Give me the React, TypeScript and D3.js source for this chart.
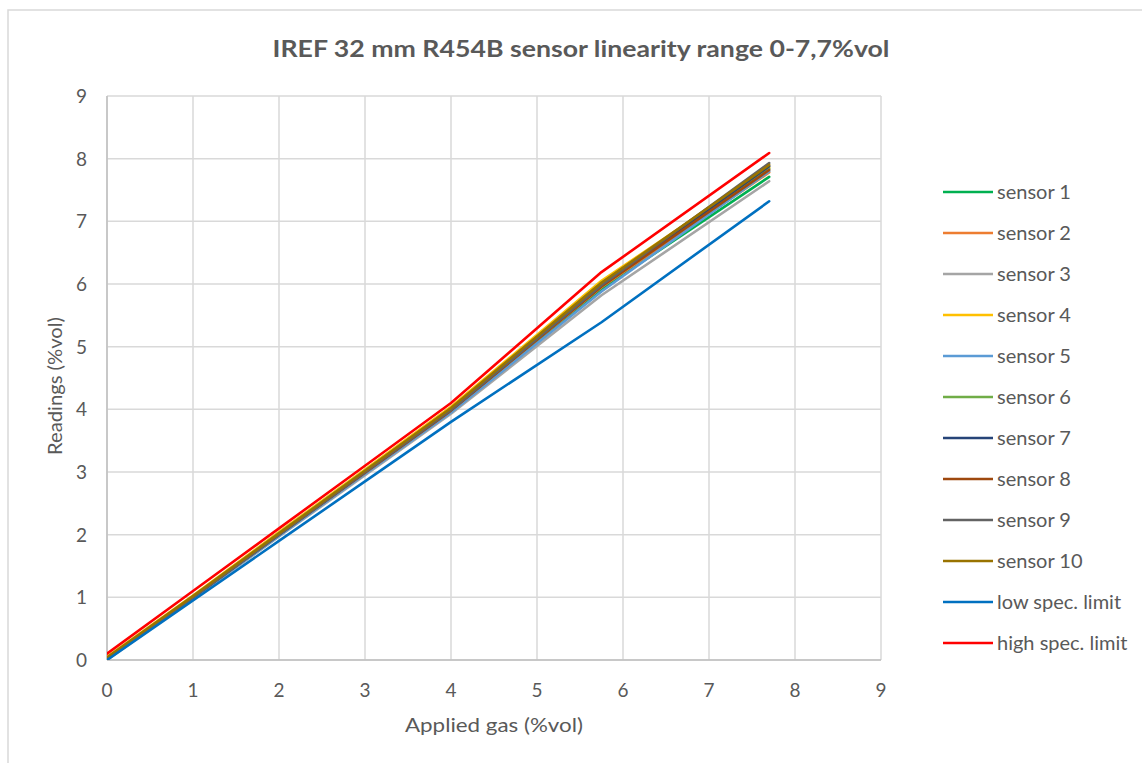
import React from "react";
import * as d3 from "d3";

const W = 1142;
const H = 763;

const title = "IREF 32 mm R454B sensor linearity range 0-7,7%vol";
const xTitle = "Applied gas (%vol)";
const yTitle = "Readings (%vol)";

const appliedGas = [0, 1, 2, 3, 4, 5.75, 7.7];

const sensor1 = [0.02, 1.0, 2.0, 2.98, 3.96, 5.92, 7.71];
const sensor2 = [0.03, 1.0, 2.0, 3.0, 3.98, 5.95, 7.78];
const sensor3 = [0.0, 0.98, 1.97, 2.95, 3.93, 5.82, 7.64];
const sensor4 = [0.05, 1.03, 2.04, 3.04, 4.04, 6.05, 7.86];
const sensor5 = [0.02, 0.99, 1.98, 2.97, 3.95, 5.88, 7.8];
const sensor6 = [0.03, 1.01, 2.02, 3.02, 4.01, 6.02, 7.84];
const sensor7 = [0.03, 1.0, 2.0, 3.0, 3.99, 5.97, 7.88];
const sensor8 = [0.03, 1.0, 2.0, 2.99, 3.98, 5.96, 7.82];
const sensor9 = [0.02, 1.0, 2.0, 3.0, 3.99, 5.98, 7.93];
const sensor10 = [0.04, 1.02, 2.02, 3.02, 4.02, 6.02, 7.9];
const lowSpec = [0.0, 0.95, 1.9, 2.85, 3.8, 5.39, 7.32];
const highSpec = [0.1, 1.1, 2.1, 3.1, 4.1, 6.19, 8.09];

const seriesNames = [
  "sensor 1", "sensor 2", "sensor 3", "sensor 4", "sensor 5", "sensor 6",
  "sensor 7", "sensor 8", "sensor 9", "sensor 10", "low spec. limit", "high spec. limit",
];
const seriesValues = [
  sensor1, sensor2, sensor3, sensor4, sensor5, sensor6,
  sensor7, sensor8, sensor9, sensor10, lowSpec, highSpec,
];
const seriesColors = [
  "#00B050", "#ED7D31", "#A5A5A5", "#FFC000", "#5B9BD5", "#70AD47",
  "#264478", "#9E480E", "#636363", "#997300", "#0070C0", "#FF0000",
];

const xTicks = [0, 1, 2, 3, 4, 5, 6, 7, 8, 9];
const yTicks = [0, 1, 2, 3, 4, 5, 6, 7, 8, 9];

const FONT = "Lato, 'Open Sans', sans-serif";
const TEXT = "#595959";
const GRID = "#d9d9d9";

export default function App() {
  const left = 107, right = 881, top = 96, bottom = 660;
  const x = d3.scaleLinear().domain([0, 9]).range([left, right]);
  const y = d3.scaleLinear().domain([0, 9]).range([bottom, top]);
  const line = d3
    .line<[number, number]>()
    .x((d) => x(d[0]))
    .y((d) => y(d[1]));

  const legendX = 943;
  const legendY0 = 192;
  const legendStep = 41;

  return (
    <svg
      width={W}
      height={H}
      style={{ position: "absolute", left: 0, top: 0, background: "#fff" }}
    >
      <rect x={8} y={10} width={W} height={H} fill="#fff" stroke={GRID} strokeWidth={1.5} />
      <text
        x={581}
        y={57}
        textAnchor="middle"
        fontFamily={FONT}
        fontWeight="bold"
        fontSize={22}
        fill={TEXT}
        textLength={617}
        lengthAdjust="spacingAndGlyphs"
      >
        {title}
      </text>
      {xTicks.map((t) => (
        <line key={"gx" + t} x1={x(t)} x2={x(t)} y1={top} y2={bottom} stroke={GRID} strokeWidth={1.5} />
      ))}
      {yTicks.map((t) => (
        <line key={"gy" + t} x1={left} x2={right} y1={y(t)} y2={y(t)} stroke={GRID} strokeWidth={1.5} />
      ))}
      <line x1={left} x2={left} y1={top} y2={bottom} stroke="#bfbfbf" strokeWidth={1.5} />
      <line x1={left} x2={right} y1={bottom} y2={bottom} stroke="#bfbfbf" strokeWidth={1.5} />
      {yTicks.map((t) => (
        <text key={"ty" + t} x={87} y={y(t) + 7} textAnchor="end" fontFamily={FONT} fontSize={19} fill={TEXT}>
          {t}
        </text>
      ))}
      {xTicks.map((t) => (
        <text key={"tx" + t} x={x(t)} y={697} textAnchor="middle" fontFamily={FONT} fontSize={19} fill={TEXT}>
          {t}
        </text>
      ))}
      <text
        x={494}
        y={732}
        textAnchor="middle"
        fontFamily={FONT}
        fontSize={20}
        fill={TEXT}
        textLength={178}
        lengthAdjust="spacingAndGlyphs"
      >
        {xTitle}
      </text>
      <text
        transform={`translate(62, 386) rotate(-90)`}
        textAnchor="middle"
        fontFamily={FONT}
        fontSize={20}
        fill={TEXT}
        textLength={138}
        lengthAdjust="spacingAndGlyphs"
      >
        {yTitle}
      </text>
      <defs>
        <clipPath id="plotclip">
          <rect x={left} y={top} width={right - left} height={bottom - top} />
        </clipPath>
      </defs>
      <g clipPath="url(#plotclip)">
        {seriesValues.map((vals, i) => (
          <path
            key={"s" + i}
            d={line(appliedGas.map((g, j) => [g, vals[j]] as [number, number])) || ""}
            fill="none"
            stroke={seriesColors[i]}
            strokeWidth={2.6}
            strokeLinejoin="round"
            strokeLinecap="round"
          />
        ))}
      </g>
      {seriesNames.map((n, i) => {
        const ly = legendY0 + i * legendStep;
        return (
          <g key={"l" + i}>
            <line x1={legendX} x2={legendX + 50} y1={ly} y2={ly} stroke={seriesColors[i]} strokeWidth={2.6} />
            <text x={legendX + 54} y={ly + 7} fontFamily={FONT} fontSize={20} fill={TEXT}>
              {n}
            </text>
          </g>
        );
      })}
    </svg>
  );
}
